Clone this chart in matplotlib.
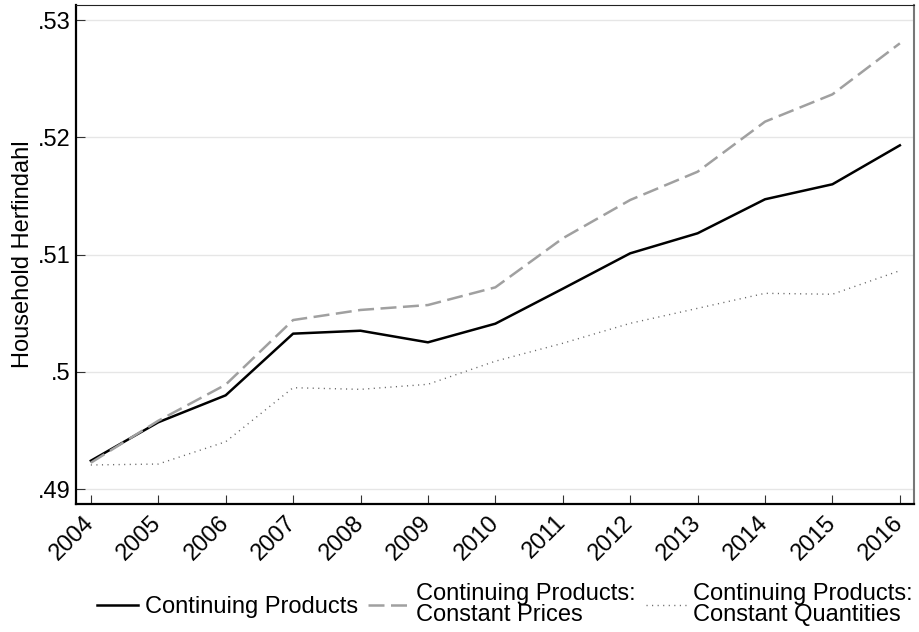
import matplotlib
matplotlib.use("Agg")
import matplotlib.pyplot as plt

years = [2004, 2005, 2006, 2007, 2008, 2009, 2010, 2011, 2012, 2013, 2014, 2015, 2016]
continuing = [0.49241, 0.49569, 0.49799, 0.50325, 0.50350, 0.50251, 0.50410,
              0.50708, 0.51010, 0.51181, 0.51471, 0.51599, 0.51931]
const_prices = [0.49224, 0.49582, 0.49890, 0.50441, 0.50527, 0.50569, 0.50720,
                0.51138, 0.51465, 0.51706, 0.52133, 0.52366, 0.52801]
const_quant = [0.49205, 0.49213, 0.49403, 0.49864, 0.49850, 0.49893, 0.50090,
               0.50243, 0.50413, 0.50541, 0.50669, 0.50661, 0.50862]
yticks = [0.49, 0.50, 0.51, 0.52, 0.53]
ytick_labels = [".49", ".5", ".51", ".52", ".53"]
labels = ["Continuing Products", "Continuing Products:\nConstant Prices",
          "Continuing Products:\nConstant Quantities"]

plt.rcParams['font.family'] = ['Liberation Sans', 'DejaVu Sans']
FS = 17

fig = plt.figure(figsize=(9.2, 6.32), dpi=100)
ax = fig.add_axes([0.0826, 0.2025, 0.9109, 0.7896])

ax.plot(years, continuing, color='black', lw=1.8, label=labels[0])
ax.plot(years, const_prices, color='#a0a0a0', lw=1.8, dashes=(6.4, 2.6), label=labels[1])
ax.plot(years, const_quant, color='#666666', lw=1.0, dashes=(0.8, 3.2), label=labels[2])

ax.set_xlim(2003.78, 2016.21)
ax.set_ylim(0.48872, 0.53128)
ax.set_yticks(yticks)
ax.set_yticklabels(ytick_labels)
ax.set_xticks(years)
ax.set_xticklabels([str(y) for y in years], rotation=45, ha='right', va='center',
                   rotation_mode='anchor')

ax.yaxis.grid(True, color='#e6e6e6', lw=1.0)
ax.set_axisbelow(True)
ax.tick_params(axis='both', direction='in', length=6.5, width=0.8, color='#333333',
               labelsize=FS, pad=3.6)
ax.tick_params(axis='x', pad=11)

for side in ['left', 'bottom']:
    ax.spines[side].set_linewidth(1.6)
    ax.spines[side].set_color('black')
ax.spines['top'].set_linewidth(0.8)
ax.spines['top'].set_color('#222222')
ax.spines['right'].set_linewidth(1.5)
ax.spines['right'].set_color('#777777')

ax.set_ylabel("Household Herfindahl", fontsize=FS, labelpad=3)

leg = fig.legend(loc='center', bbox_to_anchor=(0.549, 0.043), ncol=3, frameon=False,
                 fontsize=FS, handlelength=1.7, handletextpad=0.3, columnspacing=0.45,
                 borderpad=0, borderaxespad=0)
for t in leg.get_texts():
    t.set_linespacing(0.95)

fig.savefig("out.png", dpi=100)
